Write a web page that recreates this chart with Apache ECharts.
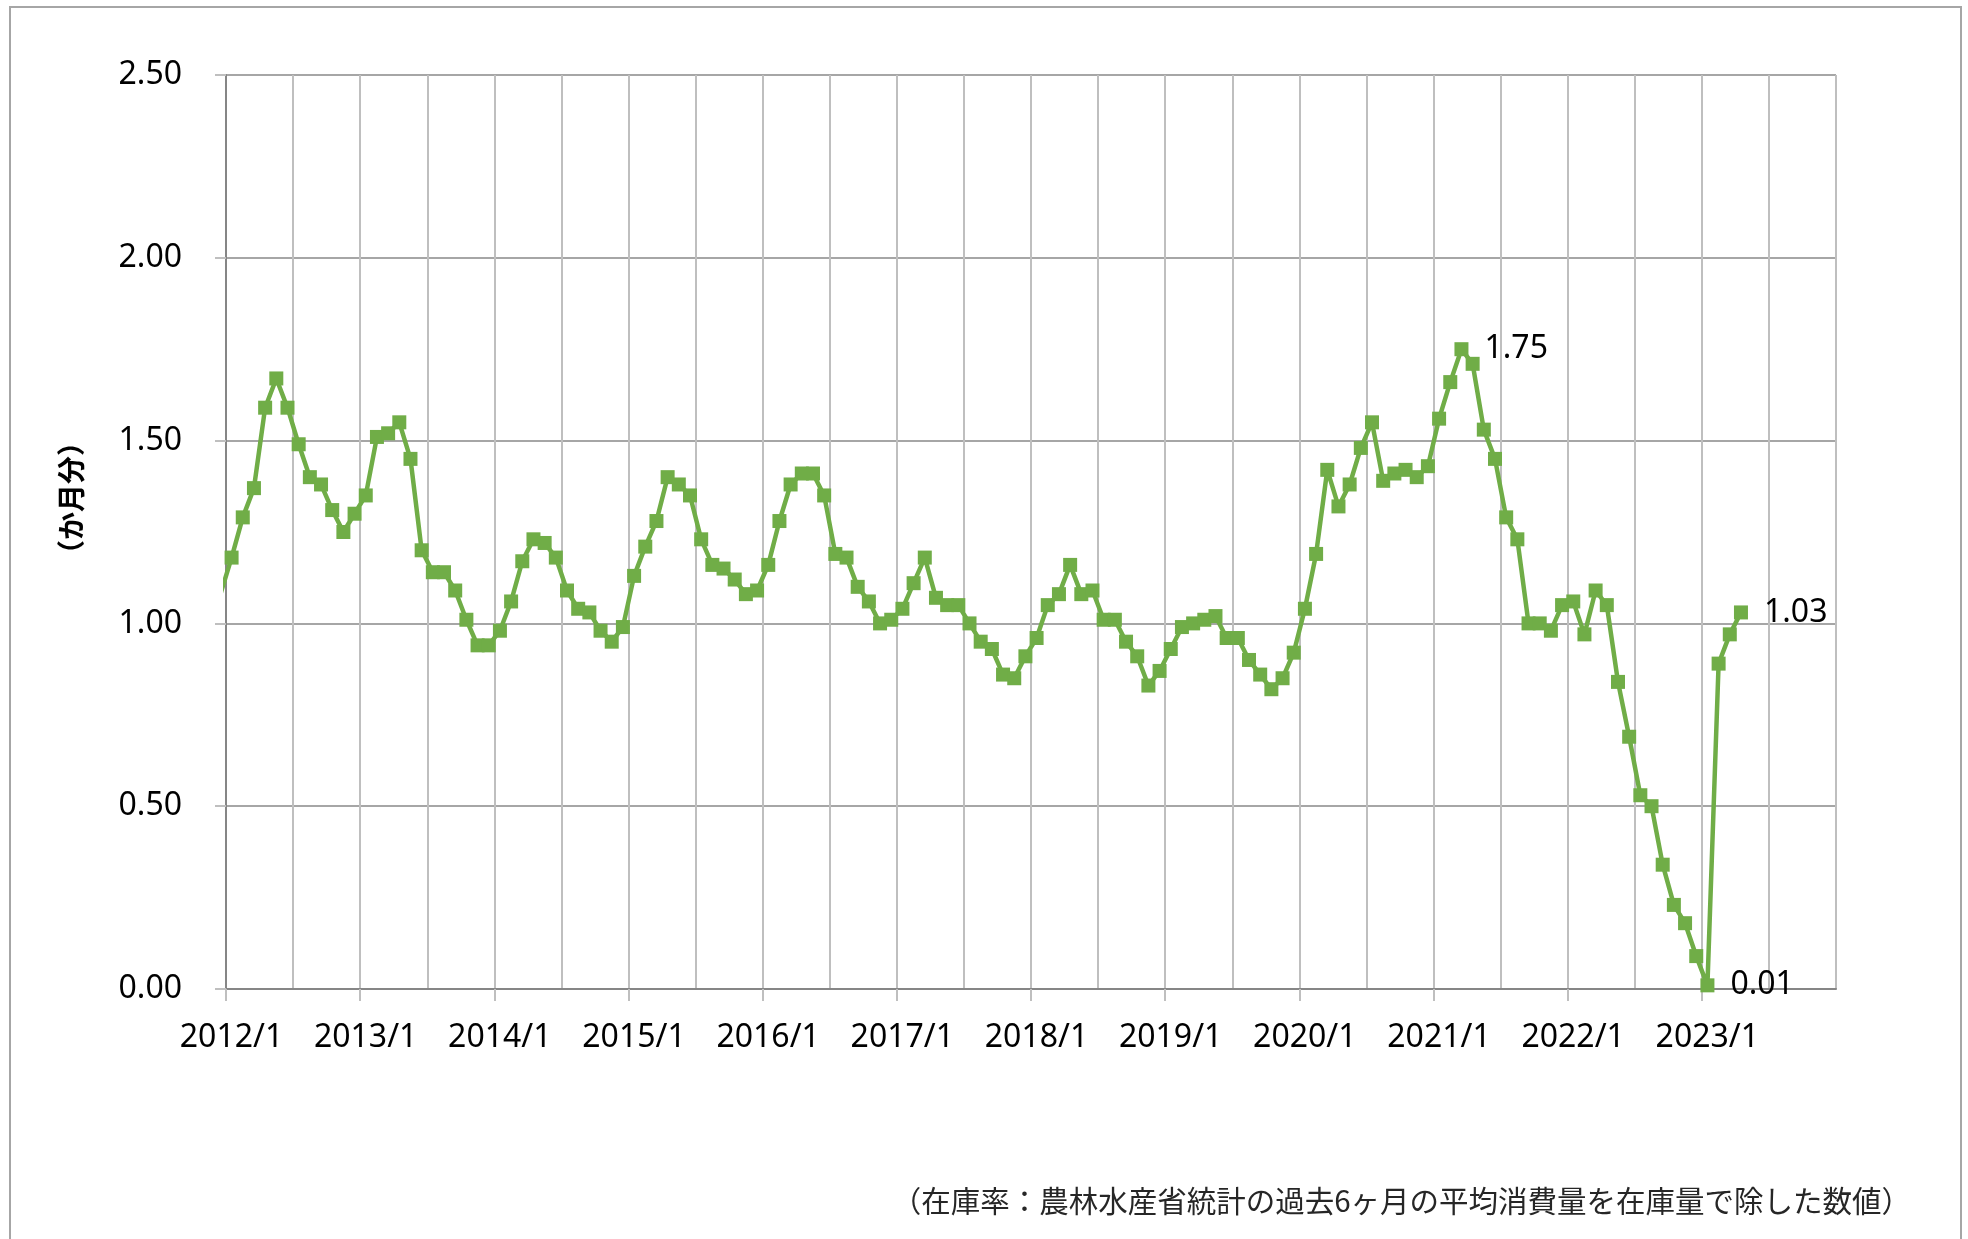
<!DOCTYPE html>
<html>
<head>
<meta charset="utf-8">
<title>在庫率</title>
<script src="https://cdn.jsdelivr.net/npm/echarts@6/dist/echarts.min.js"></script>
<style>
  html, body { margin: 0; padding: 0; background: #fff; }
  #main { width: 1968px; height: 1239px; }
</style>
</head>
<body>
<div id="main"></div>
<script>
  // 月（2011/12 から、先頭の 2011/12 は軸の左端で切れる）
  const months = ['2011/12']
  for (let y = 2012; y <= 2023; y++) {
    for (let m = 1; m <= 12; m++) {
      months.push(`${y}/${m}`)
    }
  }

  // 在庫率（か月分）
  const stockRate = [
    1.08,
    1.18, 1.29, 1.37, 1.59, 1.67, 1.59, 1.49, 1.40, 1.38, 1.31, 1.25, 1.30,
    1.35, 1.51, 1.52, 1.55, 1.45, 1.20, 1.14, 1.14, 1.09, 1.01, 0.94, 0.94,
    0.98, 1.06, 1.17, 1.23, 1.22, 1.18, 1.09, 1.04, 1.03, 0.98, 0.95, 0.99,
    1.13, 1.21, 1.28, 1.40, 1.38, 1.35, 1.23, 1.16, 1.15, 1.12, 1.08, 1.09,
    1.16, 1.28, 1.38, 1.41, 1.41, 1.35, 1.19, 1.18, 1.10, 1.06, 1.00, 1.01,
    1.04, 1.11, 1.18, 1.07, 1.05, 1.05, 1.00, 0.95, 0.93, 0.86, 0.85, 0.91,
    0.96, 1.05, 1.08, 1.16, 1.08, 1.09, 1.01, 1.01, 0.95, 0.91, 0.83, 0.87,
    0.93, 0.99, 1.00, 1.01, 1.02, 0.96, 0.96, 0.90, 0.86, 0.82, 0.85, 0.92,
    1.04, 1.19, 1.42, 1.32, 1.38, 1.48, 1.55, 1.39, 1.41, 1.42, 1.40, 1.43,
    1.56, 1.66, 1.75, 1.71, 1.53, 1.45, 1.29, 1.23, 1.00, 1.00, 0.98, 1.05,
    1.06, 0.97, 1.09, 1.05, 0.84, 0.69, 0.53, 0.50, 0.34, 0.23, 0.18, 0.09,
    0.01, 0.89, 0.97, 1.03, null, null, null, null, null, null, null, null,
  ]

  // 数値ラベルを付ける月
  const labelMonths = ['2021/3', '2023/1', '2023/4']

  const yTicks = [0, 0.5, 1, 1.5, 2, 2.5]
  const startYear = 2012
  const endYear = 2024

  const note = '（在庫率：農林水産省統計の過去6ヶ月の平均消費量を在庫量で除した数値）'
  const yName = '（か月分）'

  const numFont = '"Noto Sans", sans-serif'
  const jpFont = '"Noto Sans CJK JP", sans-serif'

  // 月 → 軸上の位置（各月の区間の中央）
  const monthPos = (s) => {
    const [y, m] = s.split('/').map(Number)
    return (y - startYear) * 12 + (m - 1) + 0.5
  }

  const seriesData = []
  stockRate.forEach((v, i) => {
    if (v === null) return
    const item = [monthPos(months[i]), v]
    if (labelMonths.includes(months[i])) {
      seriesData.push({
        value: item,
        label: {
          show: true,
          position: 'right',
          distance: 16,
          fontSize: 32,
          fontFamily: numFont,
          color: '#000',
          formatter: (p) => p.value[1].toFixed(2),
        },
      })
    } else {
      seriesData.push(item)
    }
  })

  const chart = echarts.init(document.getElementById('main'))
  const option = {
    animation: false,
    grid: {
      left: 226,
      right: 132,
      top: 75,
      bottom: 250,
    },
    xAxis: {
      type: 'value',
      min: 0,
      max: (endYear - startYear) * 12,
      interval: 12,
      axisLine: {
        show: true,
        onZero: false,
        lineStyle: { color: '#868686', width: 2 },
      },
      axisTick: {
        show: true,
        length: 12,
        lineStyle: { color: '#bfbfbf', width: 2 },
      },
      minorTick: {
        show: false,
        splitNumber: 2,
      },
      splitLine: {
        show: true,
        lineStyle: { color: '#bfbfbf', width: 2 },
      },
      minorSplitLine: {
        show: true,
        lineStyle: { color: '#bfbfbf', width: 2 },
      },
      axisLabel: {
        margin: 33,
        padding: [0, 0, 0, 11],
        fontSize: 32,
        fontFamily: numFont,
        color: '#000',
        showMaxLabel: false,
        formatter: (v) => (v >= (endYear - startYear) * 12 ? '' : `${startYear + v / 12}/1`),
      },
    },
    yAxis: {
      type: 'value',
      min: yTicks[0],
      max: yTicks[yTicks.length - 1],
      interval: 0.5,
      axisLine: {
        show: true,
        lineStyle: { color: '#868686', width: 2 },
      },
      axisTick: {
        show: true,
        length: 11,
        lineStyle: { color: '#bfbfbf', width: 2 },
      },
      splitLine: {
        show: true,
        lineStyle: { color: '#a6a6a6', width: 2 },
      },
      axisLabel: {
        margin: 44,
        fontSize: 32,
        fontFamily: numFont,
        color: '#000',
        formatter: (v) => v.toFixed(2),
      },
    },
    graphic: [
      {
        type: 'rect',
        z: -10,
        shape: { x: 10, y: 7, width: 1951, height: 1300 },
        style: { fill: 'none', stroke: '#a6a6a6', lineWidth: 2 },
      },
      {
        type: 'text',
        x: 71,
        y: 498,
        rotation: Math.PI / 2,
        style: {
          text: yName,
          fontSize: 28,
          fontWeight: 'bold',
          fontFamily: jpFont,
          fill: '#000',
          align: 'center',
          verticalAlign: 'middle',
        },
      },
      {
        type: 'text',
        right: 57,
        top: 1186,
        style: {
          text: note,
          fontSize: 29.5,
          fontFamily: jpFont,
          fill: '#262626',
        },
      },
    ],
    series: [
      {
        name: '在庫率',
        type: 'line',
        data: seriesData,
        symbol: 'rect',
        symbolSize: 14,
        showAllSymbol: true,
        clip: true,
        lineStyle: { color: '#70ad47', width: 4.5 },
        itemStyle: { color: '#70ad47' },
        emphasis: { disabled: true },
      },
    ],
  }
  chart.setOption(option)
</script>
</body>
</html>
